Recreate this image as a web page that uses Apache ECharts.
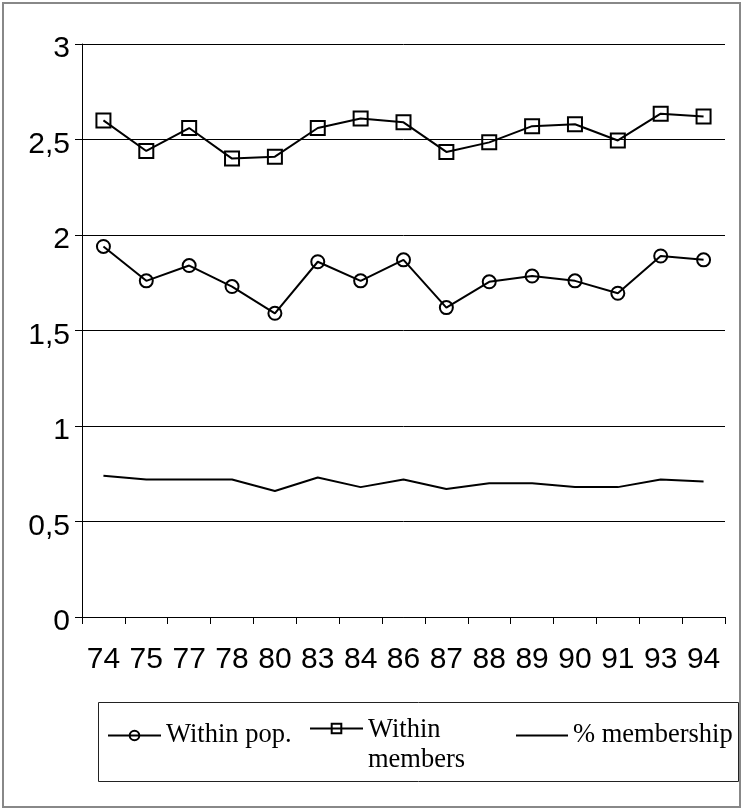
<!DOCTYPE html>
<html>
<head>
<meta charset="utf-8">
<script src="https://cdn.jsdelivr.net/npm/echarts@6/dist/echarts.min.js"></script>
<style>
  html, body { margin: 0; padding: 0; background: #fff; }
  #chart { width: 743px; height: 809px; }
</style>
</head>
<body>
<div id="chart"></div>
<script>
// Survey years (two-digit)
const years = ['74', '75', '77', '78', '80', '83', '84', '86', '87', '88', '89', '90', '91', '93', '94'];

// Series values
const withinPop = [1.94, 1.76, 1.84, 1.73, 1.59, 1.86, 1.76, 1.87, 1.62, 1.755, 1.785, 1.76, 1.695, 1.89, 1.87];
const withinMembers = [2.60, 2.44, 2.56, 2.40, 2.41, 2.56, 2.61, 2.59, 2.435, 2.485, 2.57, 2.58, 2.495, 2.635, 2.62];
const membershipShare = [0.74, 0.72, 0.72, 0.72, 0.66, 0.73, 0.68, 0.72, 0.67, 0.70, 0.70, 0.68, 0.68, 0.72, 0.71];

// Series names
const seriesNames = ['Within pop.', 'Within members', '% membership'];

const chart = echarts.init(document.getElementById('chart'), null, { renderer: 'canvas' });

const axisFont = 'Liberation Sans, Arial, sans-serif';
const legendFont = 'Liberation Serif, Times New Roman, serif';
const legendSize = 26.5;

function legendAt(name, left, extra) {
  return Object.assign({
    data: [name],
    left: left,
    top: 722,
    padding: 0,
    itemWidth: 53,
    itemHeight: 12,
    selectedMode: false,
    textStyle: {
      fontFamily: legendFont,
      fontSize: legendSize,
      color: '#000'
    }
  }, extra || {});
}

const option = {
  animation: false,
  backgroundColor: '#fff',
  grid: { left: 82, right: 18, top: 44, bottom: 192, containLabel: false },
  xAxis: {
    type: 'category',
    data: years,
    boundaryGap: true,
    axisLine: { show: true, lineStyle: { color: '#000', width: 1 } },
    axisTick: { show: true, length: 7, alignWithLabel: false, interval: 0, lineStyle: { color: '#000' } },
    axisLabel: { interval: 0, margin: 28, fontFamily: axisFont, fontSize: 30, color: '#000' },
    splitLine: { show: false }
  },
  yAxis: {
    type: 'value',
    min: 0,
    max: 3,
    interval: 0.5,
    axisLine: { show: true, lineStyle: { color: '#000', width: 1 } },
    axisTick: { show: true, length: 7, lineStyle: { color: '#000' } },
    axisLabel: {
      margin: 12,
      fontFamily: axisFont,
      fontSize: 30,
      color: '#000',
      // a short spacer line above each value sits the number a little below its gridline
      formatter: v => '{s| }\n{v|' + String(v).replace('.', ',') + '}',
      rich: {
        s: { lineHeight: 10, fontSize: 10 },
        v: { lineHeight: 30, fontSize: 30, fontFamily: axisFont, color: '#000' }
      }
    },
    splitLine: { show: true, lineStyle: { color: '#000', width: 1 } }
  },
  legend: [
    legendAt(seriesNames[0], 107),
    legendAt(seriesNames[1], 309, {
      top: 685,
      formatter: () => '{s| }\n{t|Within}\n{t|members}',
      textStyle: {
        fontFamily: legendFont, fontSize: legendSize, color: '#000',
        rich: {
          s: { lineHeight: 34, fontSize: legendSize },
          t: { lineHeight: 30, fontSize: legendSize, fontFamily: legendFont, color: '#000' }
        }
      }
    }),
    legendAt(seriesNames[2], 515, {
      itemWidth: 52,
      itemStyle: { color: 'rgba(0,0,0,0)', borderWidth: 0, opacity: 0 }
    })
  ],
  graphic: [
    {
      type: 'rect',
      shape: { x: 3, y: 3, width: 737, height: 804 },
      style: { fill: 'none', stroke: '#888', lineWidth: 2 },
      z: 0
    },
    {
      type: 'rect',
      shape: { x: 98.5, y: 702.5, width: 640, height: 79 },
      style: { fill: 'none', stroke: '#222', lineWidth: 1 },
      z: 0
    }
  ],
  series: [
    {
      name: seriesNames[0],
      type: 'line',
      data: withinPop,
      symbol: 'circle',
      symbolSize: 13,
      itemStyle: { color: 'rgba(255,255,255,0)', borderColor: '#000', borderWidth: 2 },
      lineStyle: { color: '#000', width: 2 },
      emphasis: { disabled: true }
    },
    {
      name: seriesNames[1],
      type: 'line',
      data: withinMembers,
      symbol: 'rect',
      symbolSize: 14,
      itemStyle: { color: 'rgba(255,255,255,0)', borderColor: '#000', borderWidth: 2 },
      lineStyle: { color: '#000', width: 2 },
      emphasis: { disabled: true }
    },
    {
      name: seriesNames[2],
      type: 'line',
      data: membershipShare,
      symbol: 'none',
      itemStyle: { color: '#000' },
      lineStyle: { color: '#000', width: 2 },
      emphasis: { disabled: true }
    }
  ]
};

chart.setOption(option);
</script>
</body>
</html>
